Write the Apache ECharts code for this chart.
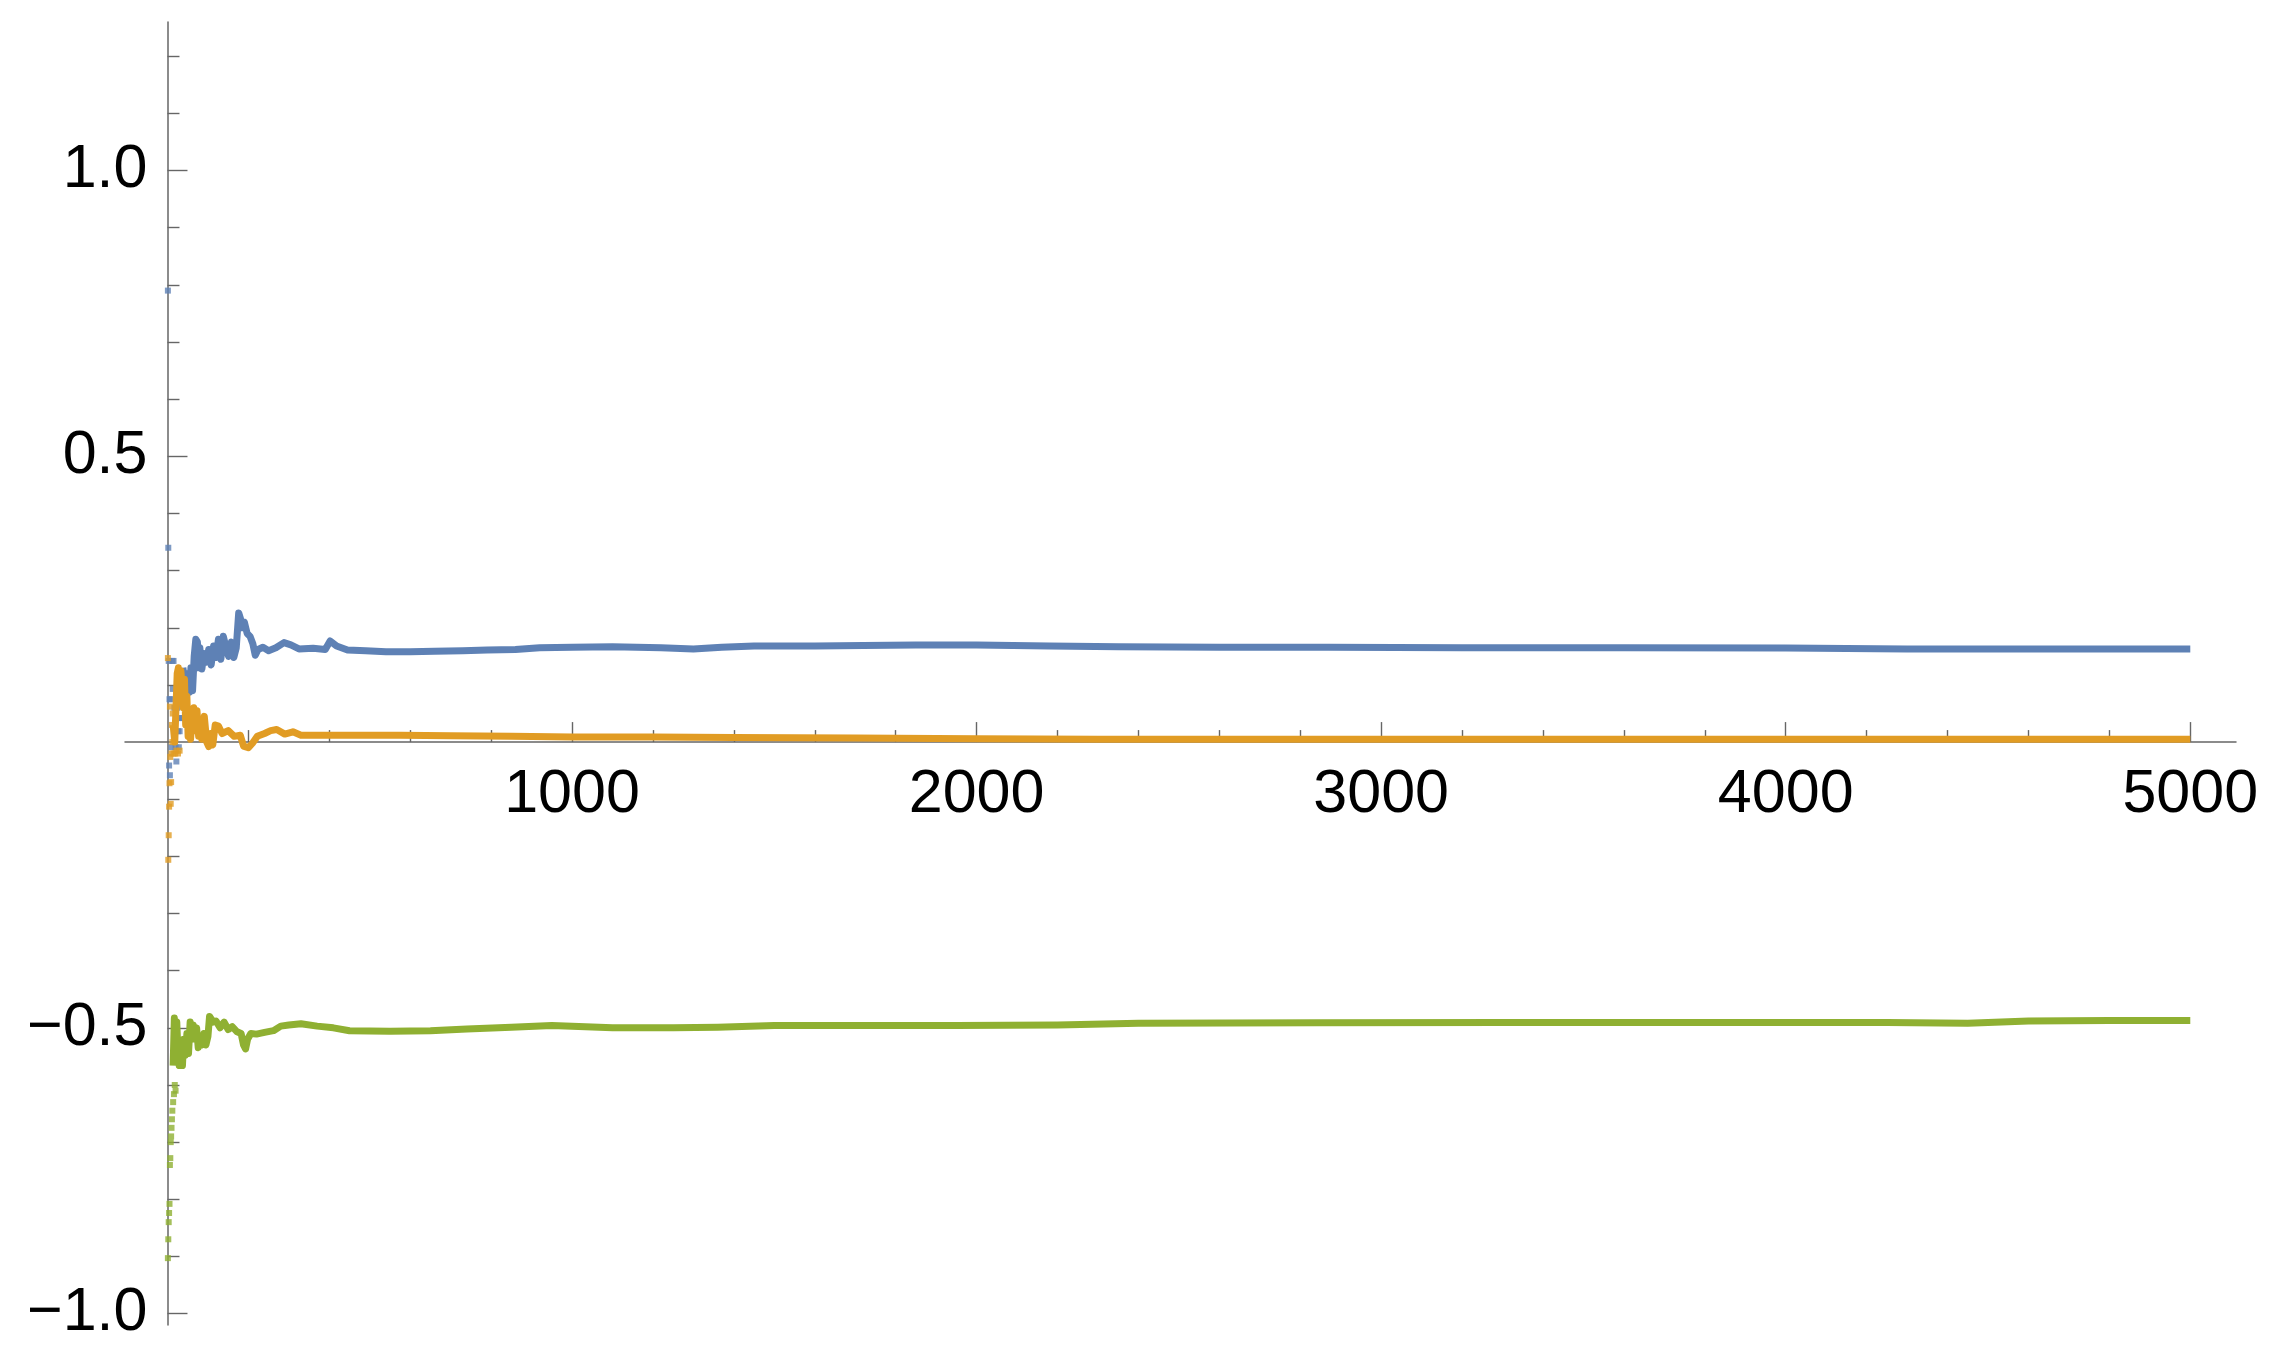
<!DOCTYPE html>
<html><head><meta charset="utf-8">
<script src="https://cdn.jsdelivr.net/npm/echarts@6/dist/echarts.min.js"></script>
<style>html,body{margin:0;padding:0;background:#fff}#c{width:2276px;height:1358px}</style>
</head><body><div id="c"></div>
<script>
// tick positions / labels
const xMajorTicks = [1000, 2000, 3000, 4000, 5000];
const xMinorTicks = [200, 400, 600, 800, 1200, 1400, 1600, 1800, 2200, 2400, 2600, 2800, 3200, 3400, 3600, 3800, 4200, 4400, 4600, 4800];
const yMajorTicks = [-1.0, -0.5, 0.5, 1.0];
const yMinorTicks = [-0.9, -0.8, -0.7, -0.6, -0.4, -0.3, -0.2, -0.1, 0.1, 0.2, 0.3, 0.4, 0.6, 0.7, 0.8, 0.9, 1.1, 1.2];

// series values [n, value]
const blueEarly = [[1,0.79],[2,0.34],[3,0.142],[4,-0.041],[5,0.075],[6,-0.058],[8,0.075],[10,-0.009],[12,0.142],[13,0.093],[15,0.142],[17,0.06],[20,-0.009],[22,-0.034],[24,0.06],[26,0.019],[28,-0.009],[30,0.019],[33,0.042],[36,0.042]];
const blueTrend = [[38,0.13],[42,0.11],[46,0.085],[50,0.12],[54,0.087],[58,0.13],[62,0.09],[66,0.15],[70,0.18],[74,0.175],[77,0.13],[80,0.165],[85,0.128],[90,0.155],[96,0.14],[102,0.162],[108,0.135],[114,0.168],[120,0.148],[126,0.18],[132,0.145],[138,0.185],[145,0.165],[151,0.15],[158,0.175],[164,0.148],[170,0.165],[176,0.226],[181,0.215],[185,0.2],[190,0.21],[197,0.19],[204,0.185],[211,0.172],[217,0.152],[224,0.162],[236,0.166],[250,0.16],[268,0.165],[288,0.174],[305,0.17],[325,0.163],[360,0.164],[390,0.162],[402,0.177],[418,0.168],[445,0.161],[490,0.16],[540,0.158],[600,0.158],[660,0.159],[730,0.16],[790,0.161],[860,0.162],[920,0.165],[1000,0.166],[1100,0.167],[1220,0.165],[1300,0.163],[1370,0.166],[1450,0.168],[1600,0.168],[1720,0.169],[1850,0.17],[2000,0.17],[2180,0.168],[2350,0.167],[2600,0.166],[2870,0.166],[3200,0.165],[3600,0.165],[4000,0.1645],[4300,0.163],[4700,0.163],[5000,0.163]];

const orangeEarly = [[1,0.147],[2,-0.206],[3,-0.163],[4,-0.113],[5,-0.072],[6,0.062],[7,-0.026],[8,-0.108],[9,-0.07],[10,-0.02],[11,0.03],[12,0.0],[13,0.05],[15,-0.02],[17,0.02],[19,-0.02],[22,-0.015],[26,-0.02],[30,-0.015]];
const orangeTrend = [[14,0.03],[18,0.0],[21,0.06],[24,0.12],[27,0.13],[30,0.085],[33,0.125],[36,0.1],[39,0.06],[42,0.11],[45,0.03],[48,0.08],[51,0.01],[54,0.05],[57,0.005],[61,0.04],[65,0.06],[69,0.02],[73,0.055],[77,0.01],[81,0.04],[85,0.005],[91,0.045],[97,0.0],[102,-0.008],[107,0.015],[112,-0.005],[118,0.03],[126,0.028],[135,0.015],[150,0.02],[165,0.01],[180,0.012],[188,-0.007],[200,-0.01],[210,-0.002],[222,0.01],[240,0.015],[255,0.02],[270,0.022],[290,0.014],[310,0.018],[330,0.012],[400,0.012],[480,0.012],[575,0.012],[700,0.011],[850,0.01],[1000,0.009],[1200,0.009],[1400,0.008],[1700,0.007],[2000,0.006],[2300,0.005],[3000,0.005],[4000,0.005],[5000,0.005]];

const greenEarly = [[1,-0.903],[2,-0.87],[3,-0.84],[4,-0.824],[5,-0.808],[6,-0.74],[7,-0.728],[8,-0.70],[9,-0.69],[10,-0.675],[11,-0.66],[12,-0.645],[14,-0.63],[16,-0.616],[18,-0.60],[20,-0.61]];
const greenTrend = [[14,-0.566],[17,-0.483],[20,-0.518],[23,-0.49],[26,-0.545],[29,-0.566],[33,-0.566],[37,-0.566],[40,-0.52],[44,-0.548],[48,-0.51],[52,-0.545],[56,-0.49],[60,-0.52],[64,-0.495],[68,-0.515],[72,-0.5],[76,-0.535],[80,-0.515],[85,-0.53],[90,-0.51],[95,-0.53],[100,-0.515],[104,-0.48],[108,-0.478],[113,-0.49],[120,-0.488],[130,-0.5],[140,-0.49],[150,-0.503],[160,-0.498],[172,-0.507],[182,-0.51],[188,-0.53],[193,-0.537],[198,-0.52],[206,-0.51],[220,-0.511],[240,-0.508],[262,-0.505],[280,-0.497],[300,-0.495],[330,-0.493],[370,-0.497],[410,-0.5],[450,-0.505],[550,-0.506],[650,-0.505],[740,-0.502],[850,-0.499],[950,-0.496],[1100,-0.5],[1250,-0.5],[1360,-0.499],[1500,-0.496],[1750,-0.496],[1950,-0.496],[2200,-0.495],[2400,-0.492],[2840,-0.491],[3300,-0.4905],[3800,-0.4905],[4250,-0.4905],[4450,-0.492],[4600,-0.488],[4800,-0.487],[5000,-0.487]];

const colors = ['#5E81B5', '#E19C24', '#8FB032'];
const FONT = "'Liberation Sans', Arial, sans-serif";
const AX = '#666666';

const X_MIN = -105, X_MAX = 5113, Y_MIN = -1.02, Y_MAX = 1.26;
const G = {left: 125, right: 40, top: 22, bottom: 33};
const W = 2276, H = 1358;
const gw = W - G.left - G.right, gh = H - G.top - G.bottom;
// place axes through the origin (0,0) using offsets from the grid edges
const xOffset = (G.top + gh * (Y_MAX / (Y_MAX - Y_MIN))) - (G.top + gh);  // negative: move up
const yOffset = -(gw * (-X_MIN / (X_MAX - X_MIN)));                      // negative: move right

const chart = echarts.init(document.getElementById('c'), null, {renderer: 'canvas'});

function xAxisDef(ticks, len, labels) {
  return {
    type: 'value', min: X_MIN, max: X_MAX, position: 'bottom', offset: xOffset,
    axisLine: {show: labels, onZero: false, lineStyle: {color: AX, width: 1.5}},
    axisTick: {show: true, inside: true, length: len, customValues: ticks, lineStyle: {color: AX, width: 1.4}},
    minorTick: {show: false},
    axisLabel: labels ? {show: true, customValues: ticks, margin: 23, fontSize: 61, fontFamily: FONT, color: '#000',
      formatter: v => String(v)} : {show: false},
    splitLine: {show: false}
  };
}
function yAxisDef(ticks, len, labels) {
  return {
    type: 'value', min: Y_MIN, max: Y_MAX, position: 'left', offset: yOffset,
    axisLine: {show: labels, onZero: false, lineStyle: {color: AX, width: 1.5}},
    axisTick: {show: true, inside: true, length: len, customValues: ticks, lineStyle: {color: AX, width: 1.4}},
    minorTick: {show: false},
    axisLabel: labels ? {show: true, customValues: ticks, margin: 20, fontSize: 61, fontFamily: FONT, color: '#000',
      formatter: v => (v < 0 ? '\u2212' : '') + Math.abs(v).toFixed(1)} : {show: false},
    splitLine: {show: false}
  };
}

const series = [];
[[blueEarly, blueTrend], [orangeEarly, orangeTrend], [greenEarly, greenTrend]].forEach((pair, i) => {
  series.push({
    type: 'line', data: pair[1], showSymbol: false, symbol: 'none',
    lineStyle: {color: colors[i], width: 7, join: 'round', cap: 'butt'},
    itemStyle: {color: colors[i]}, silent: true, animation: false, z: 2 + i
  });
  series.push({
    type: 'scatter', data: pair[0], symbol: 'rect', symbolSize: 6,
    itemStyle: {color: colors[i]}, silent: true, animation: false, z: 2 + i
  });
});

chart.setOption({
  animation: false,
  backgroundColor: '#ffffff',
  grid: {left: G.left, right: G.right, top: G.top, bottom: G.bottom, outerBoundsMode: 'none', containLabel: false},
  xAxis: [xAxisDef(xMajorTicks, 20, true), xAxisDef(xMinorTicks, 12, false)],
  yAxis: [yAxisDef(yMajorTicks, 20, true), yAxisDef(yMinorTicks, 12, false)],
  series: series
});
</script>
</body></html>
